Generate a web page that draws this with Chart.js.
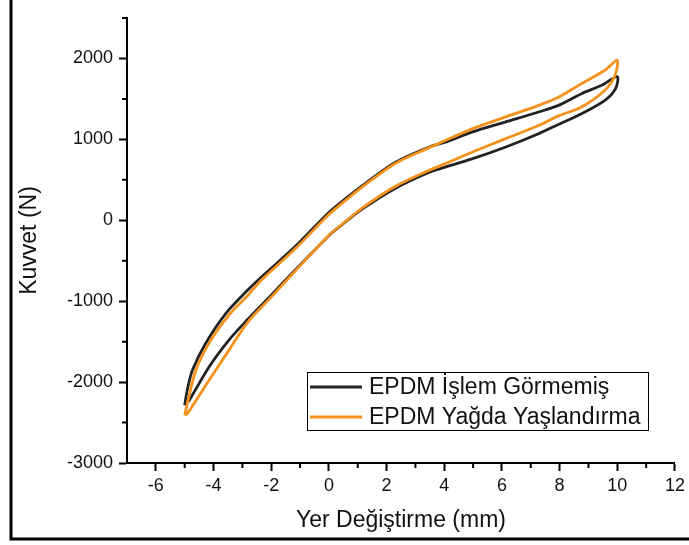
<!DOCTYPE html>
<html><head><meta charset="utf-8">
<script src="https://cdn.jsdelivr.net/npm/chart.js@4/dist/chart.umd.min.js"></script>
<style>html,body{margin:0;padding:0;background:#fff}</style>
</head><body>
<canvas id="c" width="689" height="545" style="display:block;width:689px;height:545px"></canvas>
<script>
// ---- data ----
const seriesLabels = ['EPDM İşlem Görmemiş', 'EPDM Yağda Yaşlandırma'];
const xTitle = 'Yer Değiştirme (mm)';
const yTitle = 'Kuvvet (N)';

const blackUpperX = [-5.00,-4.90,-4.73,-4.27,-3.57,-2.83,-2.31,-1.15,0.00,0.63,1.15,2.31,3.46,4.09,4.96,6.11,7.27,7.96,8.76,9.46,10.00];
const blackUpperY = [-2285,-2080,-1851,-1519,-1150,-869,-692,-319,96,282,426,717,903,972,1089,1213,1338,1420,1565,1668,1776];
const blackLowerX = [9.94,9.57,8.76,7.96,7.27,6.11,4.96,3.81,3.46,2.31,1.15,0.35,0.00,-1.15,-2.00,-2.83,-3.46,-4.15,-4.84,-5.00];
const blackLowerY = [1627,1482,1317,1185,1070,903,758,633,590,397,137,-85,-190,-609,-925,-1230,-1478,-1810,-2223,-2285];

const orangeUpperX = [-5.00,-4.90,-4.61,-4.15,-3.46,-2.83,-2.31,-1.15,0.00,0.63,1.15,2.31,3.46,3.81,4.96,6.11,7.27,7.96,8.76,9.57,10.00];
const orangeUpperY = [-2410,-2250,-1851,-1515,-1170,-935,-730,-345,70,262,410,705,895,950,1130,1275,1420,1520,1689,1854,1979];
const orangeLowerX = [9.92,9.57,8.76,7.96,7.27,6.11,4.96,4.15,3.46,2.31,1.15,0.35,0.00,-1.15,-2.00,-2.83,-3.46,-4.15,-4.90,-5.00];
const orangeLowerY = [1793,1606,1400,1290,1171,1006,841,717,615,420,150,-80,-185,-620,-950,-1267,-1602,-1975,-2385,-2410];

const yMajorTicks = [-3000,-2000,-1000,0,1000,2000];
const xMinorTicks = [-5,-3,-1,1,3,5,7,9,11];
const yMinorTicks = [-2500,-1500,-500,500,1500,2500];

function toPoints(xs, ys) { return xs.map((x, i) => ({x: x, y: ys[i]})); }
const blackLoop = toPoints(blackUpperX, blackUpperY).concat(toPoints(blackLowerX, blackLowerY));
const orangeLoop = toPoints(orangeUpperX, orangeUpperY).concat(toPoints(orangeLowerX, orangeLowerY));

const COL_BLACK = '#222222';
const COL_ORANGE = '#f5921e';
const FONT = "'Liberation Sans', Arial, sans-serif";

const framePlugin = {
  id: 'frame',
  afterDraw(chart) {
    const ctx = chart.ctx;
    ctx.save();
    ctx.strokeStyle = '#000';
    ctx.lineWidth = 3;
    ctx.beginPath();
    ctx.moveTo(11, 0); ctx.lineTo(11, 539); ctx.lineTo(689, 539);
    ctx.stroke();
    ctx.restore();
  }
};

const minorTickPlugin = {
  id: 'minorTicks',
  afterDraw(chart) {
    const ctx = chart.ctx, xs = chart.scales.x, ys = chart.scales.y;
    const area = chart.chartArea;
    ctx.save();
    ctx.strokeStyle = '#000';
    ctx.lineWidth = 2;
    ctx.beginPath();
    xMinorTicks.forEach(v => { const p = xs.getPixelForValue(v); ctx.moveTo(p, area.bottom); ctx.lineTo(p, area.bottom + 5); });
    yMinorTicks.forEach(v => { const p = ys.getPixelForValue(v); ctx.moveTo(area.left, p); ctx.lineTo(area.left - 5, p); });
    ctx.stroke();
    ctx.restore();
  }
};

const legendPlugin = {
  id: 'boxLegend',
  afterDraw(chart) {
    const ctx = chart.ctx, a = chart.chartArea;
    const left = a.left + 180, top = a.top + 354, w = 341, h = 58;
    ctx.save();
    ctx.fillStyle = '#fff';
    ctx.fillRect(left, top, w, h);
    ctx.strokeStyle = '#000';
    ctx.lineWidth = 1;
    ctx.strokeRect(left + 0.5, top + 0.5, w, h);
    ctx.font = '23px ' + FONT;
    ctx.textBaseline = 'middle';
    ctx.textAlign = 'left';
    const order = [1, 0];
    order.forEach((di, row) => {
      const ds = chart.data.datasets[di];
      const y = top + 15 + row * 30;
      ctx.strokeStyle = ds.borderColor;
      ctx.lineWidth = 3;
      ctx.beginPath(); ctx.moveTo(left + 3, y); ctx.lineTo(left + 55, y); ctx.stroke();
      ctx.fillStyle = '#111';
      ctx.fillText(ds.label, left + 62, y + 1);
    });
    ctx.restore();
  }
};

new Chart(document.getElementById('c'), {
  type: 'scatter',
  data: {
    datasets: [
      { label: seriesLabels[1], data: orangeLoop, borderColor: COL_ORANGE, backgroundColor: COL_ORANGE, showLine: true, pointRadius: 0, borderWidth: 2.8, tension: 0.3, fill: false },
      { label: seriesLabels[0], data: blackLoop, borderColor: COL_BLACK, backgroundColor: COL_BLACK, showLine: true, pointRadius: 0, borderWidth: 2.8, tension: 0.3, fill: false }
    ]
  },
  options: {
    responsive: false,
    devicePixelRatio: 1,
    animation: false,
    layout: { padding: { left: 12, top: 18, right: 11, bottom: 7 } },
    plugins: { legend: { display: false }, tooltip: { enabled: false } },
    scales: {
      x: {
        type: 'linear', min: -7, max: 12,
        afterFit(s) { s.height = 75; },
        ticks: { stepSize: 2, includeBounds: false, color: '#111', font: { family: FONT, size: 18 }, padding: 4, maxRotation: 0 },
        grid: { display: true, drawOnChartArea: false, drawTicks: true, tickLength: 8, tickColor: '#000', tickWidth: 2 },
        border: { display: true, color: '#000', width: 2 },
        title: { display: true, text: xTitle, color: '#111', font: { family: FONT, size: 23 }, padding: { top: 0, bottom: 4 } }
      },
      y: {
        type: 'linear', min: -3000, max: 2500,
        afterBuildTicks(s) { s.ticks = yMajorTicks.map(v => ({ value: v })); },
        afterFit(s) { s.width = 115; },
        ticks: { color: '#111', font: { family: FONT, size: 18 }, padding: 6, callback: v => String(v) },
        grid: { display: true, drawOnChartArea: false, drawTicks: true, tickLength: 8, tickColor: '#000', tickWidth: 2 },
        border: { display: true, color: '#000', width: 2 },
        title: { display: true, text: yTitle, color: '#111', font: { family: FONT, size: 23 }, padding: { top: 4, bottom: 0 } }
      }
    }
  },
  plugins: [minorTickPlugin, legendPlugin, framePlugin]
});
</script>
</body></html>
